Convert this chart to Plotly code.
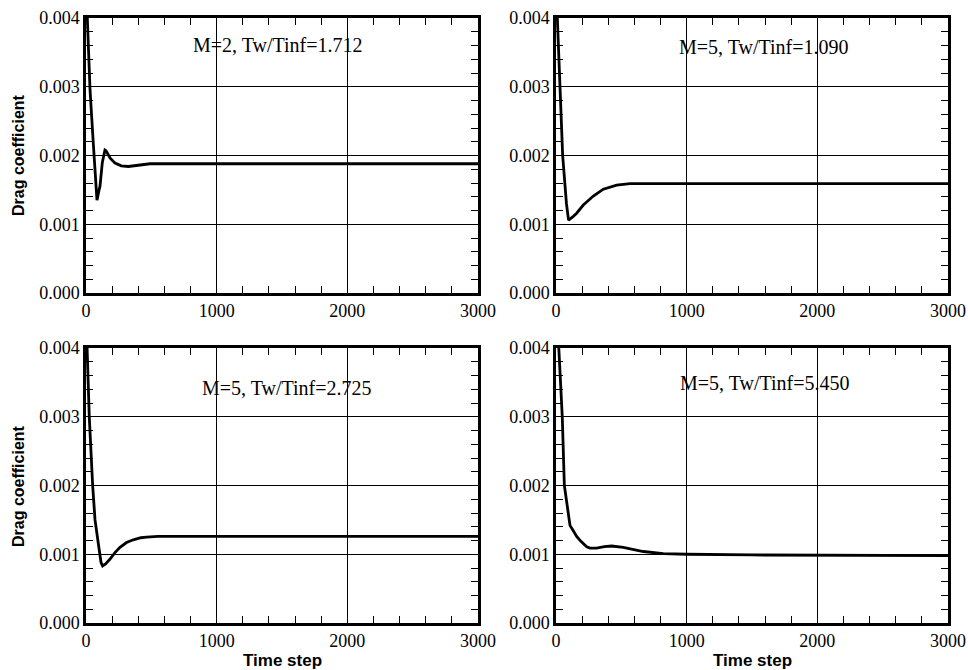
import plotly.graph_objects as go

# ---- data ----
steps_a = [0, 10, 31, 55, 70, 84, 100, 107, 125, 145, 153, 185, 222, 270, 324, 400, 490, 600, 800, 1000, 1500, 2000, 2500, 3000]
cd_a = [0.0045, 0.0040, 0.00295, 0.0022, 0.0017, 0.00135, 0.0015, 0.00155, 0.0019, 0.00208, 0.00207, 0.00196, 0.00189, 0.00185, 0.00184, 0.00186, 0.00188, 0.00188, 0.00188, 0.00188, 0.00188, 0.00188, 0.00188, 0.00188]

steps_b = [0, 10, 31, 51, 80, 96, 130, 158, 209, 250, 286, 362, 420, 464, 566, 700, 1000, 1500, 2000, 2500, 3000]
cd_b = [0.0045, 0.0040, 0.0030, 0.0020, 0.0013, 0.00106, 0.00111, 0.00116, 0.00128, 0.00135, 0.00141, 0.00151, 0.00155, 0.00157, 0.00159, 0.00159, 0.00159, 0.00159, 0.00159, 0.00159, 0.00159]

steps_c = [0, 10, 25, 51, 69, 94, 115, 127, 150, 184, 220, 260, 310, 362, 420, 464, 550, 700, 1000, 1500, 2000, 2500, 3000]
cd_c = [0.0045, 0.0040, 0.0030, 0.0020, 0.0015, 0.00116, 0.00088, 0.00083, 0.00086, 0.00093, 0.00102, 0.0011, 0.00117, 0.00121, 0.00124, 0.00125, 0.00126, 0.00126, 0.00126, 0.00126, 0.00126, 0.00126, 0.00126]

steps_d = [0, 20, 48, 64, 82, 107, 130, 158, 185, 209, 235, 260, 311, 370, 426, 515, 600, 668, 821, 1000, 1500, 2000, 2500, 3000]
cd_d = [0.0048, 0.0040, 0.0030, 0.0020, 0.00174, 0.00142, 0.00135, 0.00126, 0.0012, 0.00115, 0.00111, 0.00109, 0.00109, 0.00111, 0.00112, 0.0011, 0.00107, 0.00104, 0.00101, 0.00100, 0.00099, 0.00099, 0.00098, 0.00098]

panel_labels = ["M=2, Tw/Tinf=1.712", "M=5, Tw/Tinf=1.090", "M=5, Tw/Tinf=2.725", "M=5, Tw/Tinf=5.450"]
x_ticks = [0, 1000, 2000, 3000]
y_ticks = [0.000, 0.001, 0.002, 0.003, 0.004]
y_tick_text = ["0.000", "0.001", "0.002", "0.003", "0.004"]

series = [(steps_a, cd_a), (steps_b, cd_b), (steps_c, cd_c), (steps_d, cd_d)]

W, H = 968, 670


def px(x):
    return x / W


def py(y):
    return 1 - y / H


xdoms = [[px(86), px(478)], [px(556), px(948)]]
ydoms = [[py(293), py(18)], [py(623), py(348)]]

fig = go.Figure()
serif = "Liberation Serif"
sans = "Liberation Sans"

layout = dict(
    width=W, height=H, margin=dict(l=0, r=0, t=0, b=0, autoexpand=False),
    paper_bgcolor="white", plot_bgcolor="white", showlegend=False,
    font=dict(family=serif, size=18, color="black"),
)
annotations = []
label_pos = [(278, 45), (764, 47), (287, 388), (765, 383)]
for i, (xs, ys) in enumerate(series):
    r, c = divmod(i, 2)
    n = "" if i == 0 else str(i + 1)
    fig.add_trace(go.Scatter(x=xs, y=ys, mode="lines", line=dict(color="black", width=2.8),
                             xaxis="x" + n, yaxis="y" + n, hoverinfo="skip"))
    common = dict(showline=True, linewidth=2.5, linecolor="black", mirror="allticks",
                  ticks="inside", ticklen=7, tickwidth=1, tickcolor="black",
                  showgrid=True, gridcolor="black", gridwidth=1, zeroline=False,
                  automargin=False, tickfont=dict(family=serif, size=18, color="black"))
    layout["xaxis" + n] = dict(common, domain=xdoms[c], range=[0, 3000], tickvals=x_ticks,
                               ticktext=[str(v) for v in x_ticks], anchor="y" + n,
                               minor=dict(dtick=200, ticks="inside", ticklen=7, tickcolor="black", tickwidth=1, showgrid=False))
    layout["yaxis" + n] = dict(common, domain=ydoms[r], range=[0, 0.004], tickvals=y_ticks,
                               ticktext=y_tick_text, anchor="x" + n,
                               minor=dict(dtick=0.0002, ticks="inside", ticklen=7, tickcolor="black", tickwidth=1, showgrid=False))
    lx, ly = label_pos[i]
    annotations.append(dict(text=panel_labels[i], x=px(lx), y=py(ly), xref="paper", yref="paper",
                            showarrow=False, font=dict(family=serif, size=20, color="black"),
                            xanchor="center", yanchor="middle"))

for yc in [155, 486]:
    annotations.append(dict(text="<b>Drag coefficient</b>", x=px(18), y=py(yc), xref="paper", yref="paper",
                            showarrow=False, textangle=-90, font=dict(family=sans, size=16, color="black"),
                            xanchor="center", yanchor="middle"))
for xc in [282, 752]:
    annotations.append(dict(text="<b>Time step</b>", x=px(xc), y=py(660), xref="paper", yref="paper",
                            showarrow=False, font=dict(family=sans, size=17, color="black"),
                            xanchor="center", yanchor="middle"))
layout["annotations"] = annotations
fig.update_layout(**layout)
fig.write_html("out.html", config={"displayModeBar": False},
               post_script="document.body.style.margin='0';document.body.style.overflow='hidden';")
